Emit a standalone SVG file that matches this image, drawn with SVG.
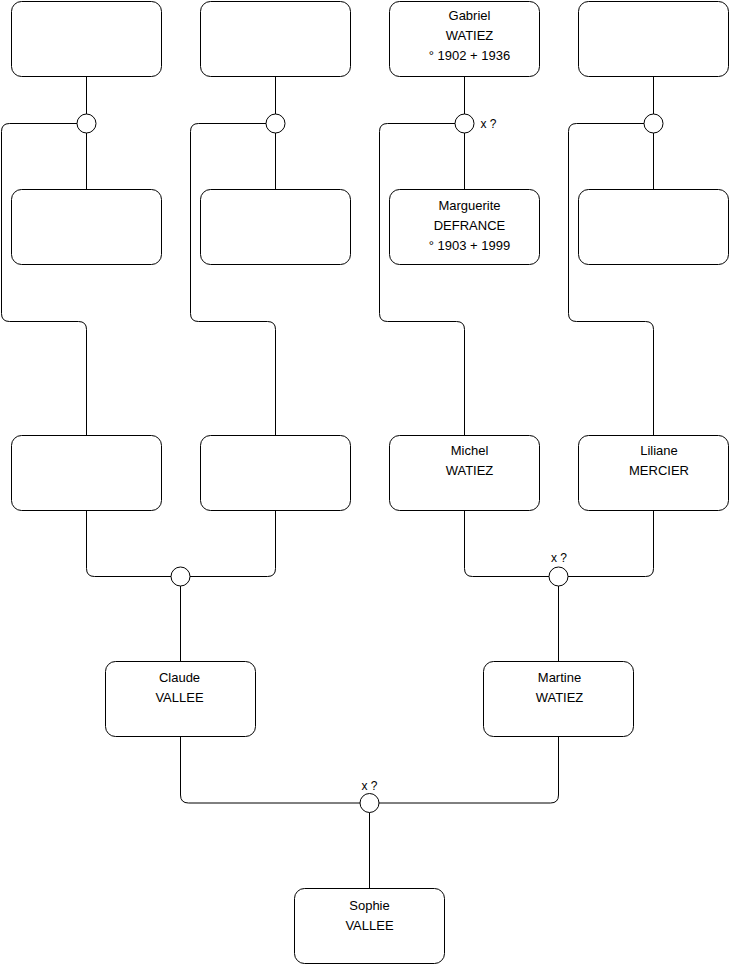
<svg xmlns="http://www.w3.org/2000/svg" width="740" height="975" viewBox="0 0 740 975">
<style>
.box{fill:#fff;stroke:#000;stroke-width:1}
.c{fill:#fff;stroke:#000;stroke-width:1}
.ln{fill:none;stroke:#000;stroke-width:1}
text{font-family:"Liberation Sans",Arial,Helvetica,sans-serif;font-size:13px;fill:#000;text-anchor:middle}
text.x{font-size:12px}
</style>
<rect width="740" height="975" fill="#fff"/>
<g id="connectors">
<!-- column 1 -->
<path class="ln" d="M86.5,76.5V114M86.5,133V189.5"/>
<path class="ln" d="M77,123.5H9.5Q1.5,123.5 1.5,131.5V313.5Q1.5,321.5 9.5,321.5H78.5Q86.5,321.5 86.5,329.5V435.5"/>
<!-- column 2 -->
<path class="ln" d="M275.5,76.5V114M275.5,133V189.5"/>
<path class="ln" d="M266,123.5H198.5Q190.5,123.5 190.5,131.5V313.5Q190.5,321.5 198.5,321.5H267.5Q275.5,321.5 275.5,329.5V435.5"/>
<!-- column 3 -->
<path class="ln" d="M464.5,76.5V114M464.5,133V189.5"/>
<path class="ln" d="M455,123.5H387.5Q379.5,123.5 379.5,131.5V313.5Q379.5,321.5 387.5,321.5H456.5Q464.5,321.5 464.5,329.5V435.5"/>
<!-- column 4 -->
<path class="ln" d="M653.5,76.5V114M653.5,133V189.5"/>
<path class="ln" d="M644,123.5H576.5Q568.5,123.5 568.5,131.5V313.5Q568.5,321.5 576.5,321.5H645.5Q653.5,321.5 653.5,329.5V435.5"/>
<!-- row 3 to row 4 -->
<path class="ln" d="M86.5,510.5V568.5Q86.5,576.5 94.5,576.5H171"/>
<path class="ln" d="M275.5,510.5V568.5Q275.5,576.5 267.5,576.5H190"/>
<path class="ln" d="M180.5,586V661.5"/>
<path class="ln" d="M464.5,510.5V568.5Q464.5,576.5 472.5,576.5H549"/>
<path class="ln" d="M653.5,510.5V568.5Q653.5,576.5 645.5,576.5H568"/>
<path class="ln" d="M558.5,586V661.5"/>
<!-- row 4 to row 5 -->
<path class="ln" d="M180.5,736.5V795Q180.5,803 188.5,803H360"/>
<path class="ln" d="M558.5,736.5V795Q558.5,803 550.5,803H379"/>
<path class="ln" d="M369.5,812.5V888.5"/>
</g>
<g id="unions">
<circle class="c" cx="86.5" cy="123.5" r="9.5"/>
<circle class="c" cx="275.5" cy="123.5" r="9.5"/>
<circle class="c" cx="464.5" cy="123.5" r="9.5"/>
<circle class="c" cx="653.5" cy="123.5" r="9.5"/>
<circle class="c" cx="180.5" cy="576.5" r="9.5"/>
<circle class="c" cx="558.5" cy="576.5" r="9.5"/>
<circle class="c" cx="369.5" cy="803" r="9.5"/>
<text class="x" x="488.5" y="128">x ?</text>
<text class="x" x="559" y="562">x ?</text>
<text class="x" x="369.5" y="790">x ?</text>
</g>
<g id="n1"><rect class="box" x="11.5" y="1.5" width="150" height="75" rx="10"/></g>
<g id="n2"><rect class="box" x="200.5" y="1.5" width="150" height="75" rx="10"/></g>
<g id="gabriel"><rect class="box" x="389.5" y="1.5" width="150" height="75" rx="10"/>
<text x="469.5" y="20">Gabriel</text><text x="469.5" y="40">WATIEZ</text><text x="469.5" y="60">° 1902 + 1936</text></g>
<g id="n4"><rect class="box" x="578.5" y="1.5" width="150" height="75" rx="10"/></g>
<g id="n5"><rect class="box" x="11.5" y="189.5" width="150" height="75" rx="10"/></g>
<g id="n6"><rect class="box" x="200.5" y="189.5" width="150" height="75" rx="10"/></g>
<g id="marguerite"><rect class="box" x="389.5" y="189.5" width="150" height="75" rx="10"/>
<text x="469.5" y="210">Marguerite</text><text x="469.5" y="230">DEFRANCE</text><text x="469.5" y="250">° 1903 + 1999</text></g>
<g id="n8"><rect class="box" x="578.5" y="189.5" width="150" height="75" rx="10"/></g>
<g id="n9"><rect class="box" x="11.5" y="435.5" width="150" height="75" rx="10"/></g>
<g id="n10"><rect class="box" x="200.5" y="435.5" width="150" height="75" rx="10"/></g>
<g id="michel"><rect class="box" x="389.5" y="435.5" width="150" height="75" rx="10"/>
<text x="469.5" y="455">Michel</text><text x="469.5" y="475">WATIEZ</text></g>
<g id="liliane"><rect class="box" x="578.5" y="435.5" width="150" height="75" rx="10"/>
<text x="659" y="455">Liliane</text><text x="659" y="475">MERCIER</text></g>
<g id="claude"><rect class="box" x="105.5" y="661.5" width="150" height="75" rx="10"/>
<text x="179.5" y="682">Claude</text><text x="179.5" y="702">VALLEE</text></g>
<g id="martine"><rect class="box" x="483.5" y="661.5" width="150" height="75" rx="10"/>
<text x="559.5" y="682">Martine</text><text x="559.5" y="702">WATIEZ</text></g>
<g id="sophie"><rect class="box" x="294.5" y="888.5" width="150" height="75" rx="10"/>
<text x="369.5" y="909.5">Sophie</text><text x="369.5" y="929.5">VALLEE</text></g>
</svg>
